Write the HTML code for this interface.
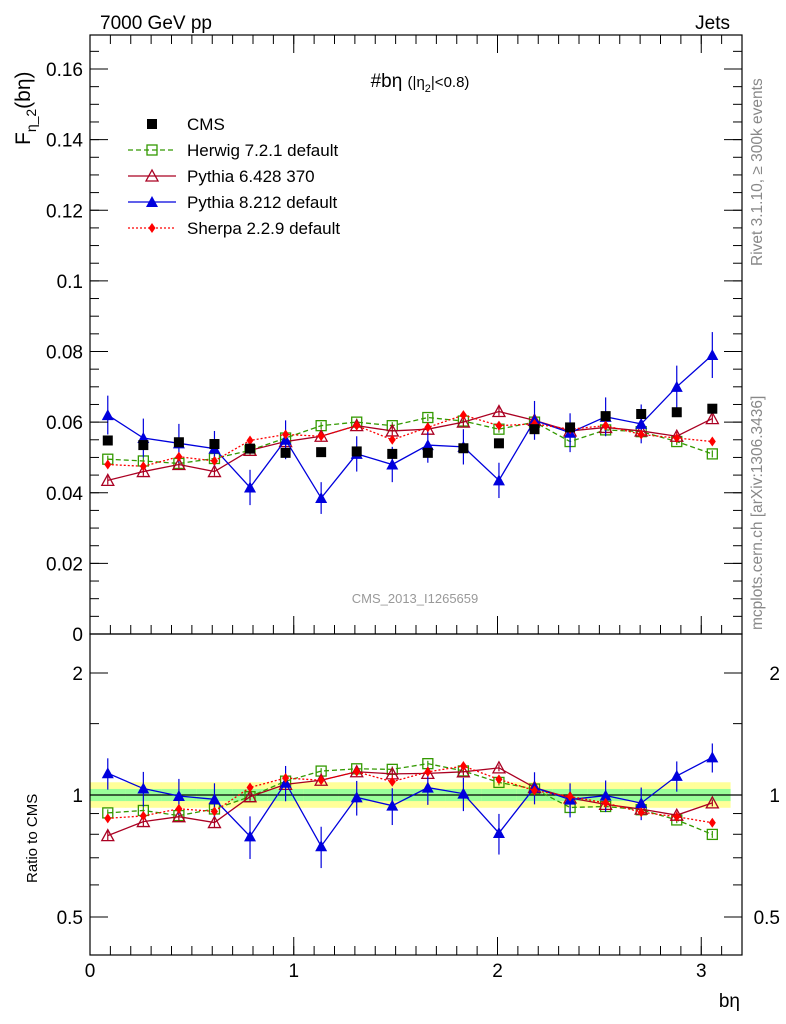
<!DOCTYPE html>
<html><head><meta charset="utf-8"><style>
body{margin:0;background:#fff;}
svg{display:block;font-family:"Liberation Sans",sans-serif;}
</style></head><body>
<svg id="c" width="786" height="1024" viewBox="0 0 786 1024">
<rect width="786" height="1024" fill="#fff"/>
<g id="bands"></g>
<g id="marks"></g>
<g id="axes" stroke="#000" fill="none"></g>
<text x="100" y="29" font-size="19">7000 GeV pp</text>
<text x="730" y="29" font-size="19" text-anchor="end">Jets</text>
<text x="420" y="87" font-size="19" text-anchor="middle">#bη <tspan font-size="15">(|η</tspan><tspan font-size="11" dy="5">2</tspan><tspan font-size="15" dy="-5">|&lt;0.8)</tspan></text>
<text x="415" y="603" font-size="13" fill="#999" text-anchor="middle">CMS_2013_I1265659</text>
<text transform="translate(762,266) rotate(-90)" font-size="15.5" fill="#888">Rivet 3.1.10, ≥ 300k events</text>
<text transform="translate(762,630) rotate(-90)" font-size="15.5" fill="#888">mcplots.cern.ch [arXiv:1306.3436]</text>
<text transform="translate(30,145) rotate(-90)" font-size="21">F<tspan font-size="14" dy="6">η_2</tspan><tspan dy="-6">(bη)</tspan></text>
<text transform="translate(37,883) rotate(-90)" font-size="15">Ratio to CMS</text>
<text x="740" y="1007" font-size="19" text-anchor="end">bη</text>
<g id="legend"></g>
</svg>
<script>
const NS="http://www.w3.org/2000/svg";
const cmsVals=[0.0548,0.0535,0.0543,0.0538,0.0525,0.0513,0.0515,0.0517,0.0510,0.0513,0.0526,0.0540,0.0580,0.0585,0.0617,0.0623,0.0628,0.0638];
const herwigVals=[0.0495,0.0490,0.0483,0.0497,0.0520,0.0555,0.0590,0.0600,0.0590,0.0613,0.0603,0.0580,0.0600,0.0545,0.0578,0.0573,0.0545,0.0510];
const py6Vals=[0.0435,0.0460,0.0480,0.0460,0.0520,0.0545,0.0560,0.0590,0.0575,0.0580,0.0600,0.0630,0.0605,0.0575,0.0585,0.0575,0.0560,0.0610];
const py8Vals=[0.0620,0.0555,0.0540,0.0525,0.0415,0.0550,0.0385,0.0510,0.0480,0.0535,0.0530,0.0435,0.0605,0.0570,0.0615,0.0595,0.0700,0.0790];
const py8Err=[0.0055,0.0055,0.0055,0.0050,0.0050,0.0055,0.0045,0.0050,0.0050,0.0050,0.0050,0.0050,0.0055,0.0055,0.0055,0.0055,0.0060,0.0065];
const sherpaVals=[0.0480,0.0475,0.0502,0.0490,0.0548,0.0565,0.0560,0.0590,0.0550,0.0585,0.0620,0.0590,0.0595,0.0580,0.0590,0.0565,0.0555,0.0545];
const yTicks=[0,0.02,0.04,0.06,0.08,0.1,0.12,0.14,0.16];
const rTicks=[0.5,1,2];
const xTicks=[0,1,2,3];
const nb=cmsVals.length, bw=Math.PI/18;
const X=v=>90+v*(652/3.2);
const Y=v=>634-v*(565/0.16);
const R=v=>795-Math.log2(v)*122;
const m=document.getElementById('marks'), ax=document.getElementById('axes'), bd=document.getElementById('bands'), lg=document.getElementById('legend');
function el(p,t,a){const e=document.createElementNS(NS,t);for(const k in a)e.setAttribute(k,a[k]);p.appendChild(e);return e;}
for(let i=0;i<nb;i++){
 const y=el(bd,'rect',{x:X(i*bw),y:R(1.075),width:X((i+1)*bw)-X(i*bw)+0.5,height:R(0.93)-R(1.075),fill:'#ffff99'});
 
 
 const g=el(bd,'rect',{x:X(i*bw),y:R(1.035),width:X((i+1)*bw)-X(i*bw)+0.5,height:R(0.966)-R(1.035),fill:'#99ff99'});
 
 
}
el(bd,'line',{x1:90,x2:742,y1:R(1),y2:R(1),stroke:'#000','stroke-width':1.2});
const series=[
 {name:'herwig',vals:herwigVals,col:'#339900',dash:'5,3',mk:'sq',err:0.001},
 {name:'pythia6',vals:py6Vals,col:'#aa0022',dash:'',mk:'tri',err:0.0012},
 {name:'pythia8',vals:py8Vals,col:'#0000dd',dash:'',mk:'ftri',err:null},
 {name:'sherpa',vals:sherpaVals,col:'#ff0000',dash:'2,2',mk:'dia',err:0.001}];
function marker(p,t,x,y,c){
 let e;
 if(t==='sq')e=el(p,'rect',{x:x-5,y:y-5,width:10,height:10,fill:'none',stroke:c,'stroke-width':1.3});
 else if(t==='tri')e=el(p,'polygon',{points:`${x},${y-6} ${x-6},${y+5} ${x+6},${y+5}`,fill:'none',stroke:c,'stroke-width':1.3});
 else if(t==='ftri')e=el(p,'polygon',{points:`${x},${y-6} ${x-6},${y+5} ${x+6},${y+5}`,fill:c});
 else if(t==='dia')e=el(p,'polygon',{points:`${x},${y-5} ${x-3.5},${y} ${x},${y+5} ${x+3.5},${y}`,fill:c});
 else e=el(p,'rect',{x:x-5,y:y-5,width:10,height:10,fill:c});
 return e;
}
series.forEach(s=>{
 [[Y],[R]].forEach(([F],panel)=>{
  const vals=s.vals.map((v,i)=>panel? v/cmsVals[i]:v);
  const pts=vals.map((v,i)=>X((i+0.5)*bw)+','+F(v)).join(' ');
  const l=el(m,'polyline',{points:pts,fill:'none',stroke:s.col,'stroke-width':1.3,'stroke-dasharray':s.dash});
  
  
  vals.forEach((v,i)=>{
   const x=X((i+0.5)*bw);
   const e=(s.err===null?py8Err[i]:s.err)*(panel?1/cmsVals[i]:1);
   el(m,'line',{x1:x,x2:x,y1:F(v+e),y2:F(Math.max(v-e,0.01)),stroke:s.col,'stroke-width':1.2});
   const mk=marker(m,s.mk,x,F(v),s.col);
   
   
  });
 });
});
cmsVals.forEach((v,i)=>{
 const mk=marker(m,'cms',X((i+0.5)*bw),Y(v),'#000');
 
 
});
el(ax,'rect',{x:90,y:35,width:652,height:599,'stroke-width':1.2});
el(ax,'rect',{x:90,y:634,width:652,height:321,'stroke-width':1.2});
yTicks.forEach(v=>{
 el(ax,'line',{x1:90,x2:108,y1:Y(v),y2:Y(v)});el(ax,'line',{x1:742,x2:724,y1:Y(v),y2:Y(v)});
 const t=el(document.getElementById('c'),'text',{x:83,y:Y(v)+7,'font-size':19,'text-anchor':'end'});
 t.textContent=String(v);
 
 
});
for(let v=0.005;v<0.17;v+=0.005){el(ax,'line',{x1:90,x2:99,y1:Y(v),y2:Y(v)});el(ax,'line',{x1:742,x2:733,y1:Y(v),y2:Y(v)});}
rTicks.forEach(v=>{
 el(ax,'line',{x1:90,x2:108,y1:R(v),y2:R(v)});el(ax,'line',{x1:742,x2:724,y1:R(v),y2:R(v)});
 [83,780].forEach(xx=>{
  const t=el(document.getElementById('c'),'text',{x:xx,y:R(v)+7,'font-size':19,'text-anchor':'end'});
  t.textContent=String(v);
  
  
 });
});
[0.6,0.7,0.8,0.9,1.5,2.5].forEach(v=>{if(R(v)>634){el(ax,'line',{x1:90,x2:99,y1:R(v),y2:R(v)});el(ax,'line',{x1:742,x2:733,y1:R(v),y2:R(v)});}});
xTicks.forEach(v=>{
 [[634,616],[35,53],[955,937]].forEach(([a,b])=>el(ax,'line',{x1:X(v),x2:X(v),y1:a,y2:b}));
 const t=el(document.getElementById('c'),'text',{x:X(v),y:977,'font-size':19,'text-anchor':'middle'});
 t.textContent=String(v);
 
 
});
for(let v=0.1;v<3.2;v+=0.1){[[634,625],[35,44],[955,946]].forEach(([a,b])=>el(ax,'line',{x1:X(v),x2:X(v),y1:a,y2:b}));}
const leg=[['CMS','#000','','cms'],['Herwig 7.2.1 default','#339900','5,3','sq'],['Pythia 6.428 370','#aa0022','','tri'],['Pythia 8.212 default','#0000dd','','ftri'],['Sherpa 2.2.9 default','#ff0000','2,2','dia']];
leg.forEach((L,i)=>{
 const y=124+i*26;
 const g=el(lg,'g',{});
 
 
 if(i>0)el(g,'line',{x1:128,x2:176,y1:y,y2:y,stroke:L[1],'stroke-width':1.3,'stroke-dasharray':L[2]});
 marker(g,L[3],152,y,L[1]);
 const t=el(g,'text',{x:187,y:y+6,'font-size':17});t.textContent=L[0];
});
</script>
</body></html>
